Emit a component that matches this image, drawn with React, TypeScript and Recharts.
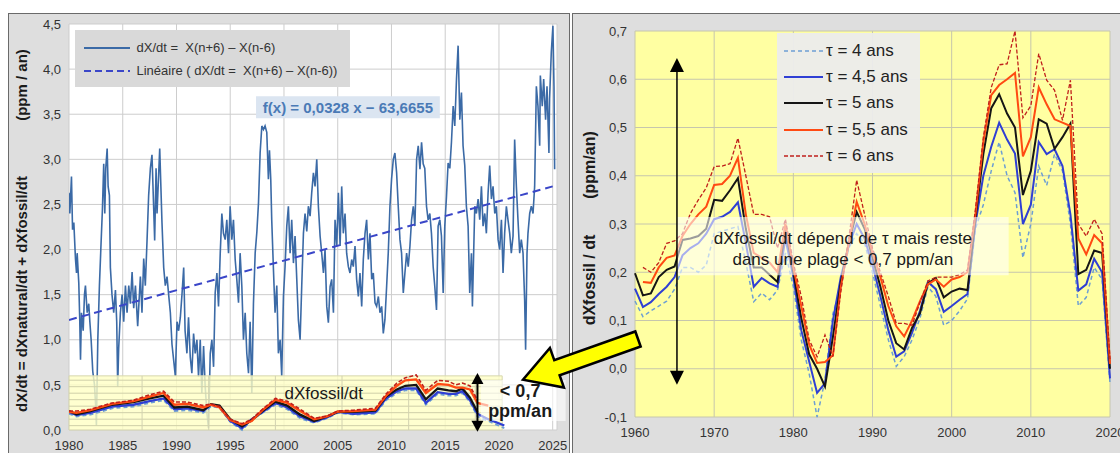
import React from 'react';
import {
  LineChart,
  Line,
  XAxis,
  YAxis,
  CartesianGrid,
  ReferenceLine,
  ReferenceArea,
  ReferenceDot,
  Legend,
  Label,
} from 'recharts';

const FONT = '"Liberation Sans", Arial, sans-serif';

// ---------- left chart : dX/dt (monthly, 12-month difference) ----------
const mainT = [
  1980.0, 1980.08, 1980.23, 1980.33, 1980.45, 1980.6, 1980.7, 1980.76, 1980.91, 1981.0, 1981.07, 1981.16,
  1981.32, 1981.44, 1981.53, 1981.69, 1981.84, 1981.94, 1982.06, 1982.21, 1982.37, 1982.49, 1982.55, 1982.68,
  1982.83, 1982.96, 1983.11, 1983.23, 1983.33, 1983.42, 1983.55, 1983.64, 1983.76, 1983.85, 1984.0, 1984.16,
  1984.32, 1984.44, 1984.53, 1984.62, 1984.78, 1984.94, 1985.09, 1985.25, 1985.4, 1985.56, 1985.71, 1985.87,
  1986.02, 1986.18, 1986.39, 1986.64, 1986.79, 1986.95, 1987.1, 1987.26, 1987.41, 1987.57, 1987.72, 1987.88,
  1987.97, 1988.1, 1988.19, 1988.44, 1988.65, 1988.81, 1988.96, 1989.12, 1989.27, 1989.43, 1989.58, 1989.89,
  1990.05, 1990.2, 1990.36, 1990.51, 1990.67, 1990.8, 1990.97, 1991.12, 1991.28, 1991.43, 1991.59, 1991.74,
  1991.9, 1992.05, 1992.21, 1992.36, 1992.52, 1992.67, 1992.83, 1992.98, 1993.14, 1993.29, 1993.45, 1993.6,
  1993.76, 1993.91, 1994.07, 1994.22, 1994.37, 1994.53, 1994.68, 1994.84, 1994.99, 1995.15, 1995.3, 1995.46,
  1995.61, 1995.77, 1995.92, 1996.08, 1996.23, 1996.39, 1996.54, 1996.7, 1996.85, 1997.01, 1997.16, 1997.32,
  1997.48, 1997.63, 1997.78, 1997.94, 1998.09, 1998.24, 1998.4, 1998.55, 1998.65, 1998.77, 1998.86, 1999.02,
  1999.17, 1999.33, 1999.48, 1999.64, 1999.79, 1999.95, 2000.1, 2000.26, 2000.41, 2000.57, 2000.72, 2000.88,
  2001.03, 2001.19, 2001.34, 2001.5, 2001.65, 2001.81, 2001.96, 2002.12, 2002.27, 2002.43, 2002.58, 2002.74,
  2002.89, 2003.05, 2003.2, 2003.36, 2003.51, 2003.67, 2003.82, 2003.98, 2004.13, 2004.29, 2004.44, 2004.6,
  2004.75, 2004.91, 2005.06, 2005.22, 2005.37, 2005.52, 2005.68, 2005.83, 2005.99, 2006.14, 2006.3, 2006.45,
  2006.61, 2006.76, 2006.92, 2007.07, 2007.23, 2007.38, 2007.54, 2007.69, 2007.85, 2008.0, 2008.16, 2008.31,
  2008.47, 2008.62, 2008.78, 2008.93, 2009.09, 2009.24, 2009.39, 2009.55, 2009.7, 2009.86, 2010.01, 2010.17,
  2010.32, 2010.48, 2010.63, 2010.79, 2010.94, 2011.1, 2011.25, 2011.41, 2011.56, 2011.72, 2011.87, 2012.03,
  2012.18, 2012.34, 2012.49, 2012.65, 2012.8, 2012.95, 2013.1, 2013.26, 2013.41, 2013.57, 2013.72, 2013.88,
  2014.03, 2014.19, 2014.34, 2014.5, 2014.65, 2014.81, 2014.96, 2015.12, 2015.27, 2015.43, 2015.58, 2015.74,
  2015.89, 2016.05, 2016.2, 2016.36, 2016.51, 2016.66, 2016.82, 2016.97, 2017.13, 2017.28, 2017.44, 2017.53,
  2017.75, 2017.9, 2018.06, 2018.21, 2018.37, 2018.52, 2018.68, 2018.83, 2018.99, 2019.14, 2019.3, 2019.45,
  2019.61, 2019.76, 2019.92, 2020.07, 2020.23, 2020.38, 2020.53, 2020.69, 2020.84, 2021.0, 2021.15, 2021.31,
  2021.46, 2021.62, 2021.77, 2021.93, 2022.08, 2022.24, 2022.39, 2022.48, 2022.61, 2022.7, 2022.86, 2023.01,
  2023.17, 2023.32, 2023.48, 2023.63, 2023.79, 2023.85, 2024.03, 2024.16, 2024.34, 2024.47, 2024.65, 2024.71,
  2024.87, 2025.02, 2025.12, 2025.18,
];
const mainV = [
  2.63, 2.4, 2.81, 2.22, 2.3, 1.9, 1.74, 1.96, 1.63, 1.22, 0.78, 1.3,
  1.1, 1.5, 1.6, 1.3, 1.4, 1.2, 1.0, 0.65, 0.5, 0.25, 0.05, 1.0,
  1.6, 2.0, 2.45, 2.95, 2.4, 2.9, 3.12, 2.7, 2.6, 1.8, 1.5, 1.3,
  1.55, 1.2, 0.48, 0.9, 1.3, 1.5, 1.2, 1.6, 1.3, 1.6, 1.4, 1.75,
  1.35, 1.6, 1.15, 1.7, 1.3, 1.9, 1.6, 2.1, 2.6, 2.9, 3.05, 2.45,
  2.1, 2.9, 2.4, 3.12, 2.3, 1.8, 1.6, 1.7, 1.5, 1.3, 0.95, 0.6,
  1.2, 1.1, 1.25, 1.5, 1.8, 1.1, 0.85, 1.25, 0.81, 0.63, 1.07, 0.85,
  1.0, 0.59, 1.0, 0.41, 0.93, 0.48, 0.19, 0.02, 0.85, 1.0, 0.7, 1.52,
  1.74, 1.37, 1.96, 2.4, 2.18, 2.11, 2.33, 1.96, 2.48, 2.11, 2.33, 1.89,
  1.67, 1.41, 1.96, 1.59, 1.0, 1.3, 0.85, 0.63, 1.2, 0.41, 1.4, 1.96,
  2.2, 2.52, 3.07, 3.37, 3.33, 3.37, 3.3, 2.78, 3.1, 2.78, 2.33, 1.78,
  1.3, 1.6, 0.85, 1.0, 0.6, 1.48, 1.81, 2.26, 2.48, 1.96, 2.33, 1.85,
  2.15, 1.67, 1.22, 1.0, 1.59, 2.18, 2.4, 2.2, 2.48, 2.37, 2.63, 2.85,
  2.7, 3.0, 2.48, 2.15, 1.96, 1.74, 2.0, 1.37, 1.19, 1.59, 1.67, 1.3,
  2.33, 2.04, 2.63, 2.04, 2.7, 2.18, 2.4, 1.96, 1.81, 1.74, 1.89, 1.81,
  2.04, 1.67, 1.48, 1.74, 1.37, 1.89, 2.18, 2.33, 1.89, 2.18, 1.67, 1.74,
  1.41, 1.37, 1.48, 1.3, 1.37, 1.07, 1.22, 1.59, 1.96, 2.48, 2.78, 3.0,
  3.07, 2.85, 2.48, 2.11, 1.96, 1.52, 1.74, 1.96, 1.81, 2.04, 2.33, 2.48,
  2.26, 3.0, 3.15, 2.89, 3.19, 2.95, 2.9, 2.48, 2.33, 2.4, 2.18, 1.81,
  1.59, 1.33, 2.26, 2.33, 2.15, 1.52, 2.26, 2.59, 2.96, 2.9, 3.19, 3.59,
  3.37, 3.89, 4.26, 3.44, 3.74, 3.15, 2.93, 2.48, 2.26, 1.52, 1.96, 1.37,
  2.48, 2.4, 2.56, 2.33, 2.7, 2.26, 2.4, 2.18, 2.63, 2.93, 2.56, 2.7,
  2.4, 2.48, 2.11, 2.0, 2.33, 1.74, 2.18, 2.48, 2.33, 2.18, 1.96, 2.15,
  3.22, 2.7, 2.33, 1.96, 2.11, 1.96, 1.44, 0.89, 1.96, 2.18, 2.4, 2.48,
  2.4, 2.7, 3.81, 3.59, 3.15, 3.93, 3.59, 3.89, 3.44, 3.81, 3.07, 3.67,
  4.19, 4.48, 3.81, 2.89,
];

// linear trend, read at both ends of the plot
const trendT = [1980, 2025];
const trendV = [1.22, 2.7];

// inset: dXfossil/dt drawn on the same scale
const insetT = [
  1980, 1980.7, 1982, 1984, 1986, 1987.5, 1988.8, 1989.8, 1991, 1992.5, 1993.2, 1994, 1995, 1996.1, 1997, 1998,
  1999.2, 2000.3, 2001.5, 2002.8, 2004, 2005, 2006.5, 2008.5, 2009.5, 2010.5, 2011.3, 2012.3, 2013.2, 2014.3,
  2015.3, 2016, 2016.6, 2017.3, 2018, 2019, 2020.5,
];
const insetTau4 = [
  0.18, 0.15, 0.17, 0.24, 0.26, 0.3, 0.33, 0.21, 0.22, 0.19, 0.26, 0.25, 0.09, 0.0, 0.11, 0.19,
  0.28, 0.23, 0.13, 0.08, 0.13, 0.19, 0.17, 0.18, 0.33, 0.41, 0.44, 0.44, 0.28, 0.4,
  0.38, 0.38, 0.41, 0.31, 0.15, 0.1, 0.02,
];
const insetTau45 = [
  0.2, 0.165, 0.19, 0.26, 0.28, 0.32, 0.35, 0.23, 0.24, 0.21, 0.28, 0.26, 0.1, 0.02, 0.12, 0.2,
  0.3, 0.25, 0.15, 0.09, 0.14, 0.2, 0.18, 0.195, 0.35, 0.43, 0.46, 0.46, 0.3, 0.42,
  0.4, 0.4, 0.43, 0.33, 0.18, 0.12, 0.05,
];
const insetTau5 = [
  0.21, 0.175, 0.21, 0.28, 0.31, 0.35, 0.38, 0.25, 0.26, 0.22, 0.285, 0.27, 0.12, 0.04, 0.11, 0.21,
  0.315, 0.27, 0.17, 0.1, 0.15, 0.2, 0.2, 0.215, 0.37, 0.45, 0.49, 0.5, 0.34, 0.46,
  0.44, 0.43, 0.46, 0.36, 0.2, null, null,
];
const insetTau55 = [
  0.2, 0.19, 0.22, 0.29, 0.32, 0.37, 0.41, 0.28, 0.29, 0.25, 0.28, 0.25, 0.11, 0.06, 0.1, 0.22,
  0.335, 0.3, 0.21, 0.12, 0.15, 0.205, 0.21, 0.225, 0.38, 0.49, 0.55, 0.56, 0.41, 0.51,
  0.5, 0.47, 0.47, 0.45, 0.3, 0.27, null,
];
const insetTau6 = [
  0.21, 0.21, 0.23, 0.3, 0.33, 0.39, 0.43, 0.31, 0.31, 0.27, 0.29, 0.26, 0.12, 0.07, 0.12, 0.23,
  0.35, 0.32, 0.23, 0.13, 0.155, 0.21, 0.22, 0.24, 0.4, 0.52, 0.58, 0.61, 0.44, 0.55,
  0.54, 0.5, 0.52, 0.49, 0.33, null, null,
];
const insetGridY = [0.048, 0.12, 0.192, 0.264, 0.336, 0.408, 0.48, 0.552];
const insetGridX = [1986.8, 1993.0, 1999.2, 2005.4, 2011.6, 2017.8];

const leftTicksX = [1980, 1985, 1990, 1995, 2000, 2005, 2010, 2015, 2020, 2025];
const leftTicksY = [0, 0.5, 1, 1.5, 2, 2.5, 3, 3.5, 4, 4.5];
const leftLegendLabels = ['dX/dt =  X(n+6) – X(n-6)', 'Linéaire ( dX/dt =  X(n+6) – X(n-6))'];

// ---------- right chart : dXfossil/dt for several tau ----------
const years = [
  1960, 1961, 1962, 1963, 1964, 1965, 1966, 1967, 1968, 1969, 1970, 1971, 1972, 1973, 1974, 1975, 1976, 1977,
  1978, 1979, 1980, 1981, 1982, 1983, 1984, 1985, 1986, 1987, 1988, 1989, 1990, 1991, 1992, 1993, 1994, 1995,
  1996, 1997, 1998, 1999, 2000, 2001, 2002, 2003, 2004, 2005, 2006, 2007, 2008, 2009, 2010, 2011, 2012, 2013,
  2014, 2015, 2016, 2017, 2018, 2019, 2020,
];
const tau4 = [
  0.14, 0.108, 0.12, 0.13, 0.14, 0.165, 0.21, 0.21, 0.2, 0.215, 0.28, 0.285, 0.29, 0.295, 0.22, 0.139, 0.157, 0.143,
  0.163, 0.24, 0.17, 0.06, -0.01, -0.1, -0.023, 0.114, 0.17, 0.25, 0.28, 0.26, 0.2, 0.13, 0.06, 0.005, 0.025, 0.06,
  0.105, 0.17, 0.15, 0.09, 0.1, 0.12, 0.145, 0.29, 0.34, 0.41, 0.47, 0.4, 0.365, 0.23, 0.3, 0.42, 0.38, 0.445,
  0.41, 0.3, 0.13, 0.148, 0.21, 0.185, -0.03,
];
const tau45 = [
  0.166, 0.128, 0.138, 0.155, 0.17, 0.19, 0.235, 0.25, 0.26, 0.28, 0.31, 0.315, 0.325, 0.345, 0.26, 0.17, 0.188, 0.177,
  0.17, 0.27, 0.19, 0.08, 0.015, -0.05, -0.03, 0.1, 0.19, 0.255, 0.3, 0.27, 0.215, 0.15, 0.08, 0.025, 0.036, 0.075,
  0.12, 0.18, 0.165, 0.118, 0.13, 0.143, 0.155, 0.3, 0.4, 0.46, 0.51, 0.475, 0.446, 0.3, 0.34, 0.47, 0.445, 0.455,
  0.42, 0.32, 0.162, 0.175, 0.228, 0.2, -0.02,
];
const tau5 = [
  0.198, 0.152, 0.156, 0.19, 0.205, 0.212, 0.267, 0.27, 0.275, 0.29, 0.35, 0.348, 0.37, 0.395, 0.29, 0.21, 0.21, 0.195,
  0.18, 0.29, 0.2, 0.105, 0.03, 0.0, -0.037, 0.066, 0.18, 0.26, 0.325, 0.29, 0.23, 0.17, 0.1, 0.053, 0.04, 0.085,
  0.115, 0.177, 0.188, 0.148, 0.16, 0.166, 0.163, 0.31, 0.445, 0.54, 0.569, 0.529, 0.5, 0.36, 0.41, 0.517, 0.508, 0.456,
  0.48, 0.508, 0.196, 0.205, 0.245, 0.24, 0.0,
];
const tau55 = [
  null, 0.18, 0.178, 0.21, 0.23, 0.235, 0.275, 0.3, 0.32, 0.336, 0.381, 0.383, 0.4, 0.437, 0.32, 0.24, 0.23, 0.22,
  0.2, 0.3, 0.21, 0.13, 0.05, 0.012, 0.014, 0.028, 0.17, 0.26, 0.346, 0.3, 0.24, 0.19, 0.13, 0.088, 0.067, 0.1,
  0.14, 0.175, 0.185, 0.17, 0.185, 0.19, 0.2, 0.32, 0.47, 0.567, 0.588, 0.6, 0.613, 0.44, 0.48, 0.583, 0.548, 0.517,
  0.51, 0.503, 0.27, 0.237, 0.277, 0.26, 0.01,
];
const tau6 = [
  null, 0.21, 0.2, 0.22, 0.26, 0.265, 0.28, 0.322, 0.35, 0.375, 0.419, 0.42, 0.425, 0.478, 0.4, 0.32, 0.32, 0.315,
  0.25, 0.31, 0.22, 0.15, 0.06, 0.025, 0.07, 0.025, 0.16, 0.27, 0.391, 0.32, 0.25, 0.2, 0.15, 0.094, 0.094, 0.09,
  0.138, 0.182, 0.19, 0.19, 0.19, 0.195, 0.205, 0.33, 0.48, 0.583, 0.63, 0.632, 0.7, 0.52, 0.545, 0.653, 0.598, 0.577,
  0.515, 0.598, 0.3, 0.275, 0.31, 0.28, 0.02,
];
const rightTicksX = [1960, 1970, 1980, 1990, 2000, 2010, 2020];
const rightTicksY = [-0.1, 0, 0.1, 0.2, 0.3, 0.4, 0.5, 0.6, 0.7];
const tauLabels = ['τ = 4 ans', 'τ = 4,5 ans', 'τ = 5 ans', 'τ = 5,5 ans', 'τ = 6 ans'];

const TAU_STYLE = [
  { key: 't4', color: '#6d9fd3', width: 1.5, dash: '4 3' },
  { key: 't45', color: '#2f3fd4', width: 2, dash: undefined },
  { key: 't5', color: '#151515', width: 2, dash: undefined },
  { key: 't55', color: '#ff4a12', width: 2, dash: undefined },
  { key: 't6', color: '#c0201c', width: 1.3, dash: '4 2' },
];

const MAIN_BLUE = '#3b6aa6';
const TREND_BLUE = '#3a46c8';

const comma = (v: number) => v.toFixed(1).replace('.', ',');

const leftMain = mainT.map((t, i) => ({ t, v: mainV[i] }));
const leftTrend = trendT.map((t, i) => ({ t, v: trendV[i] }));
const leftInset = insetT.map((t, i) => ({
  t,
  t4: insetTau4[i],
  t45: insetTau45[i],
  t5: insetTau5[i],
  t55: insetTau55[i],
  t6: insetTau6[i],
}));
const rightData = years.map((year, i) => ({
  year,
  t4: tau4[i],
  t45: tau45[i],
  t5: tau5[i],
  t55: tau55[i],
  t6: tau6[i],
}));

// vertical double-headed arrow drawn from a reference segment
const doubleArrow = (head: number, half: number, w: number) => (props: any) => {
  const { x1, y1, y2 } = props;
  const top = Math.min(y1, y2);
  const bot = Math.max(y1, y2);
  return (
    <g>
      <line x1={x1} y1={top + head - 1} x2={x1} y2={bot - head + 1} stroke="#000" strokeWidth={w} />
      <polygon points={`${x1},${top} ${x1 - half},${top + head} ${x1 + half},${top + head}`} fill="#000" />
      <polygon points={`${x1},${bot} ${x1 - half},${bot - head} ${x1 + half},${bot - head}`} fill="#000" />
    </g>
  );
};

const boxLines = (lines: string[], size: number, bold: boolean, offsets: number[], dx = 0) => (props: any) => {
  const vb = props.viewBox || { x: 0, y: 0, width: 0, height: 0 };
  const cx = vb.x + vb.width / 2 + dx;
  return (
    <g>
      {lines.map((s, i) => (
        <text
          key={i}
          x={cx}
          y={vb.y + offsets[i]}
          textAnchor="middle"
          dominantBaseline="central"
          fontFamily={FONT}
          fontSize={size}
          fontWeight={bold ? 'bold' : 'normal'}
          fill="#1a1a1a"
        >
          {s}
        </text>
      ))}
    </g>
  );
};

const leftTitle = () => (
  <g fontFamily={FONT} fontSize={15} fontWeight="bold" fill="#1a1a1a">
    <text x={13} y={281} textAnchor="middle" dominantBaseline="central" transform="rotate(-90 13 281)">
      dX/dt = dXnatural/dt + dXfossil/dt
    </text>
    <text x={13} y={72} textAnchor="middle" dominantBaseline="central" transform="rotate(-90 13 72)">
      (ppm / an)
    </text>
  </g>
);

const rightTitle = () => (
  <g fontFamily={FONT} fontSize={16} fontWeight="bold" fill="#1a1a1a">
    <text x={17} y={267} textAnchor="middle" dominantBaseline="central" transform="rotate(-90 17 267)">
      dXfossil / dt
    </text>
    <text x={17} y={152} textAnchor="middle" dominantBaseline="central" transform="rotate(-90 17 152)">
      (ppm/an)
    </text>
  </g>
);

const LeftLegend = () => (
  <div
    style={{
      background: '#d9d9d9',
      width: 275,
      height: 57,
      fontFamily: FONT,
      fontSize: 13,
      color: '#333',
      boxSizing: 'border-box',
      paddingTop: 6,
    }}
  >
    {leftLegendLabels.map((s, i) => (
      <div key={i} style={{ display: 'flex', alignItems: 'center', height: 23, whiteSpace: 'pre' }}>
        <svg width={62} height={10} style={{ flex: 'none' }}>
          <line
            x1={9}
            y1={5}
            x2={55}
            y2={5}
            stroke={i === 0 ? MAIN_BLUE : TREND_BLUE}
            strokeWidth={2}
            strokeDasharray={i === 0 ? undefined : '7 4'}
          />
        </svg>
        <span>{s}</span>
      </div>
    ))}
  </div>
);

const RightLegend = () => (
  <div
    style={{
      background: 'rgba(236,236,236,0.95)',
      width: 143,
      height: 140,
      fontFamily: FONT,
      fontSize: 17,
      color: '#222',
      boxSizing: 'border-box',
      paddingTop: 5,
    }}
  >
    {TAU_STYLE.map((s, i) => (
      <div key={s.key} style={{ display: 'flex', alignItems: 'center', height: 26.2, whiteSpace: 'pre' }}>
        <svg width={49} height={10} style={{ flex: 'none' }}>
          <line x1={7} y1={5} x2={46} y2={5} stroke={s.color} strokeWidth={s.width} strokeDasharray={s.dash} />
        </svg>
        <span>{tauLabels[i]}</span>
      </div>
    ))}
  </div>
);

const tickStyle = { fontFamily: FONT, fontSize: 13, fill: '#333' };

const LEFT_W = 562;
const LEFT_H = 440;
const LEFT_X_DOMAIN: [number, number] = [1980, 2025.4];
const LEFT_Y_DOMAIN: [number, number] = [0, 4.5];
// margins for the overlay layers, whose axes are hidden
const LEFT_OVERLAY_MARGIN = { top: 11, right: 13, left: 61, bottom: 23 };

function LeftChart() {
  return (
    <LineChart width={LEFT_W} height={LEFT_H} margin={{ top: 11, right: 13, left: 0, bottom: 0 }}>
      <CartesianGrid fill="#ffffff" stroke="#cdcdcd" strokeWidth={1} />
      <XAxis
        type="number"
        dataKey="t"
        domain={LEFT_X_DOMAIN}
        ticks={leftTicksX}
        interval={0}
        height={23}
        tickLine={false}
        axisLine={false}
        tickMargin={5}
        tick={tickStyle}
        allowDataOverflow
      />
      <YAxis
        type="number"
        domain={LEFT_Y_DOMAIN}
        ticks={leftTicksY}
        interval={0}
        width={61}
        tickLine={false}
        axisLine={false}
        tick={tickStyle}
        tickFormatter={comma}
      >
        <Label content={leftTitle} />
      </YAxis>
      <Line
        data={leftMain}
        dataKey="v"
        name="main"
        stroke={MAIN_BLUE}
        strokeWidth={1.6}
        dot={false}
        activeDot={false}
        isAnimationActive={false}
      />
      <Line
        data={leftTrend}
        dataKey="v"
        name="trend"
        stroke={TREND_BLUE}
        strokeWidth={2}
        strokeDasharray="8 5"
        dot={false}
        activeDot={false}
        isAnimationActive={false}
      />
      <ReferenceArea
        x1={1997.4}
        x2={2014.5}
        y1={3.456}
        y2={3.7}
        fill="#dbe5f1"
        fillOpacity={1}
        stroke="none"
        ifOverflow="visible"
        label={(props: any) => {
          const vb = props.viewBox;
          return (
            <text
              x={vb.x + vb.width / 2}
              y={vb.y + vb.height / 2 + 0.5}
              textAnchor="middle"
              dominantBaseline="central"
              fontFamily={FONT}
              fontSize={15}
              fontWeight="bold"
              fill="#4a7ab6"
            >
              f(x) = 0,0328 x − 63,6655
            </text>
          );
        }}
      />
      <Legend
        layout="horizontal"
        verticalAlign="middle"
        align="center"
        content={LeftLegend}
        wrapperStyle={{ left: 66.5, top: 17, width: 275, height: 57 }}
      />
    </LineChart>
  );
}

// inset layer: yellow panel over the main curve, fossil curves on top
function LeftInset() {
  return (
    <LineChart width={LEFT_W} height={LEFT_H} margin={LEFT_OVERLAY_MARGIN}>
      <XAxis type="number" dataKey="t" domain={LEFT_X_DOMAIN} hide allowDataOverflow />
      <YAxis type="number" domain={LEFT_Y_DOMAIN} hide />
      <ReferenceArea
        x1={1980}
        x2={2020.3}
        y1={0}
        y2={0.6}
        fill="#ffffc4"
        fillOpacity={0.8}
        stroke="#d6d6b0"
        strokeWidth={1}
        ifOverflow="visible"
      />
      {insetGridY.map((y) => (
        <ReferenceLine
          key={'gy' + y}
          segment={[
            { x: 1980, y },
            { x: 2020.3, y },
          ]}
          stroke="#cfcfa8"
          strokeWidth={1}
          ifOverflow="visible"
        />
      ))}
      {insetGridX.map((x) => (
        <ReferenceLine
          key={'gx' + x}
          segment={[
            { x, y: 0 },
            { x, y: 0.6 },
          ]}
          stroke="#d2d2b0"
          strokeWidth={1}
          ifOverflow="visible"
        />
      ))}
      {TAU_STYLE.map((s) => (
        <Line
          key={s.key}
          data={leftInset}
          dataKey={s.key}
          stroke={s.color}
          strokeWidth={s.width + 0.3}
          strokeDasharray={s.dash}
          dot={false}
          activeDot={false}
          isAnimationActive={false}
        />
      ))}
    </LineChart>
  );
}

// annotation layer: white label box, double arrow and inset title
function LeftNotes() {
  return (
    <LineChart width={LEFT_W} height={LEFT_H} data={leftTrend} margin={LEFT_OVERLAY_MARGIN}>
      <XAxis type="number" dataKey="t" domain={LEFT_X_DOMAIN} hide allowDataOverflow />
      <YAxis type="number" domain={LEFT_Y_DOMAIN} hide />
      {/* invisible carrier so that the layer gets drawn */}
      <Line dataKey="v" stroke="transparent" strokeWidth={0} dot={false} activeDot={false} isAnimationActive={false} />
      <ReferenceArea
        x1={2018.3}
        x2={2026.2}
        y1={0.1}
        y2={0.555}
        fill="#ffffff"
        fillOpacity={0.6}
        stroke="none"
        ifOverflow="visible"
        label={boxLines(['< 0,7', 'ppm/an'], 18, true, [11, 31], -3)}
      />
      <ReferenceLine
        segment={[
          { x: 2018.0, y: 0.633 },
          { x: 2018.0, y: -0.02 },
        ]}
        ifOverflow="visible"
        shape={doubleArrow(11, 6, 2)}
      />
      <ReferenceDot
        x={2003.7}
        y={0.41}
        r={0}
        fill="none"
        stroke="none"
        ifOverflow="visible"
        label={boxLines(['dXfossil/dt'], 17, false, [0])}
      />
    </LineChart>
  );
}

const RIGHT_W = 548;
const RIGHT_H = 440;
const RIGHT_X_DOMAIN: [number, number] = [1960, 2020];
const RIGHT_Y_DOMAIN: [number, number] = [-0.1, 0.7];

function RightChart() {
  return (
    <LineChart width={RIGHT_W} height={RIGHT_H} data={rightData} margin={{ top: 18, right: 10, left: 0, bottom: 0 }}>
      <CartesianGrid fill="#ffffa2" stroke="#c6c6ad" strokeWidth={1} />
      <XAxis
        type="number"
        dataKey="year"
        domain={RIGHT_X_DOMAIN}
        ticks={rightTicksX}
        interval={0}
        height={36}
        tickLine={false}
        axisLine={false}
        tickMargin={5}
        tick={tickStyle}
      />
      <YAxis
        type="number"
        domain={RIGHT_Y_DOMAIN}
        ticks={rightTicksY}
        interval={0}
        width={63}
        tickLine={false}
        axisLine={false}
        tick={tickStyle}
        tickFormatter={comma}
      >
        <Label content={rightTitle} />
      </YAxis>
      {TAU_STYLE.map((s, i) => (
        <Line
          key={s.key}
          dataKey={s.key}
          name={tauLabels[i]}
          stroke={s.color}
          strokeWidth={s.width}
          strokeDasharray={s.dash}
          dot={false}
          activeDot={false}
          isAnimationActive={false}
        />
      ))}
      <Legend
        layout="horizontal"
        verticalAlign="middle"
        align="center"
        content={RightLegend}
        wrapperStyle={{ left: 205, top: 20, width: 143, height: 140 }}
      />
    </LineChart>
  );
}

function RightNotes() {
  return (
    <LineChart width={RIGHT_W} height={RIGHT_H} data={rightData} margin={{ top: 18, right: 10, left: 63, bottom: 36 }}>
      <XAxis type="number" dataKey="year" domain={RIGHT_X_DOMAIN} hide />
      <YAxis type="number" domain={RIGHT_Y_DOMAIN} hide />
      {/* invisible carrier so that the layer gets drawn */}
      <Line dataKey="t5" stroke="transparent" strokeWidth={0} dot={false} activeDot={false} isAnimationActive={false} />
      <ReferenceArea
        x1={1965.3}
        x2={2007.2}
        y1={0.194}
        y2={0.3145}
        fill="#ffffff"
        fillOpacity={0.58}
        stroke="none"
        label={boxLines(['dXfossil/dt dépend de τ mais reste', 'dans une plage < 0,7 ppm/an'], 17, false, [21, 42])}
      />
      <ReferenceLine
        segment={[
          { x: 1965.3, y: 0.644 },
          { x: 1965.3, y: -0.033 },
        ]}
        ifOverflow="visible"
        shape={doubleArrow(14, 7, 1.5)}
      />
    </LineChart>
  );
}

const layer = (left: number, top: number): React.CSSProperties => ({ position: 'absolute', left, top });

export default function App() {
  return (
    <div style={{ position: 'absolute', left: 0, top: 0, width: 1120, height: 453, background: '#fff', overflow: 'hidden' }}>
      <div
        style={{
          position: 'absolute',
          left: 8,
          top: 13,
          width: 562,
          height: 445,
          background: '#dedede',
          border: '1px solid #6a6a6a',
          boxSizing: 'border-box',
        }}
      />
      <div style={layer(8, 13)}>
        <LeftChart />
      </div>
      <div style={layer(8, 13)}>
        <LeftInset />
      </div>
      <div style={layer(8, 13)}>
        <LeftNotes />
      </div>
      <div
        style={{
          position: 'absolute',
          left: 572,
          top: 13,
          width: 555,
          height: 445,
          background: '#dedede',
          border: '1px solid #6a6a6a',
          boxSizing: 'border-box',
        }}
      />
      <div style={layer(572, 13)}>
        <RightChart />
      </div>
      <div style={layer(572, 13)}>
        <RightNotes />
      </div>
      <svg width={1120} height={453} style={{ position: 'absolute', left: 0, top: 0, pointerEvents: 'none' }}>
        <polygon
          points="0,-8 86,-8 86,-21 122,0 86,21 86,8 0,8"
          transform="translate(638 339) rotate(160.5)"
          fill="#ffff00"
          stroke="#000"
          strokeWidth={2.5}
          strokeLinejoin="miter"
        />
      </svg>
    </div>
  );
}
